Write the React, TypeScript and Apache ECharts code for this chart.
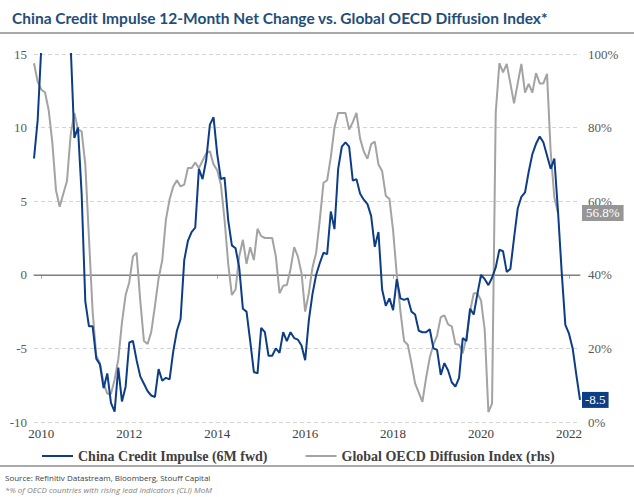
import React, { useEffect, useRef } from "react";
import * as echarts from "echarts";

// Monthly series, first month Nov 2009
const startYear = 2009;
const startMonth = 11;

// China Credit Impulse (6M fwd), Nov 2009 .. Apr 2022 (values above 15 are clipped in the chart)
const creditImpulse = [
  7.9, 10.5, 15.5, 18.5, 20.5, 21.5, 21.0, 20.0, 18.5, 17.0,
  15.6, 9.3, 10.0, 5.5, -1.8, -3.5, -3.5, -5.7, -6.1, -7.7,
  -6.7, -8.7, -9.3, -6.3, -8.6, -7.6, -4.6, -4.5, -5.8, -6.9,
  -7.4, -7.9, -8.2, -8.3, -6.4, -7.2, -7.0, -7.1, -5.2, -3.8,
  -3.0, 1.0, 2.3, 2.9, 3.2, 7.2, 6.5, 7.8, 10.2, 10.7,
  8.2, 6.5, 6.6, 3.7, 2.0, 1.8, 0.5, -2.3, -2.5, -4.5,
  -6.6, -6.7, -3.6, -3.9, -5.5, -5.5, -5.0, -5.3, -3.9, -4.5,
  -3.9, -4.3, -4.4, -4.8, -5.8, -3.1, -1.3, 0.0, 0.8, 1.5,
  1.4, 4.3, 3.1, 7.2, 8.7, 9.0, 8.7, 6.4, 6.5, 5.5,
  5.1, 4.8, 4.0, 1.9, 2.9, -1.0, -2.1, -1.6, -2.4, -0.3,
  -1.6, -1.7, -1.6, -2.5, -2.7, -3.8, -3.9, -3.9, -3.7, -5.0,
  -5.1, -6.8, -6.0, -6.5, -7.3, -7.6, -7.0, -4.3, -4.5, -2.3,
  -2.7, -1.3, 0.0, -0.3, -0.7, -0.2, 0.5, 1.7, 1.6, 0.2,
  0.4, 2.5, 4.5, 5.3, 5.6, 7.0, 8.2, 8.9, 9.4, 9.0,
  8.1, 7.2, 7.9, 4.3, 0.2, -3.4, -4.0, -5.0, -6.8, -8.5,
];

// Global OECD Diffusion Index (%), Nov 2009 .. Oct 2021
const oecdDiffusion = [
  97.5, 92.5, 90.3, 89.6, 84.8, 76, 63, 58.5, 62, 65.5,
  78, 84, 79.5, 79, 70, 50, 30, 18, 16, 10.5,
  7.7, 7.7, 11.5, 17, 27, 34.5, 38, 45, 46, 33,
  22, 21.2, 24.5, 31.5, 39, 44, 55, 60.5, 64, 65.7,
  64, 64.5, 69, 69, 70.5, 69, 71, 73, 73.6, 70,
  68.4, 64.5, 55, 43, 34.5, 36, 45, 49.5, 43, 47.5,
  44, 52.5, 50.5, 50, 50, 50, 45, 35, 37, 37.2,
  41.5, 47.5, 45, 40.5, 30, 35, 42, 46, 55, 65,
  65.7, 72, 80, 84, 84, 84, 79.5, 81.5, 84, 77,
  73.5, 71.5, 75.5, 76.2, 70, 68.2, 61.5, 60.6, 52, 40,
  30, 22, 21, 16, 10.5, 8, 5.5, 12, 17.5, 21,
  23.5, 28.5, 29, 26.5, 26, 21.2, 21, 18.7, 23, 30,
  35, 35, 33, 25, 2.7, 5, 84, 97.5, 95, 97.3,
  92, 86.6, 92, 97.3, 89.5, 91.9, 89.5, 94.8, 92, 92,
  94.6, 73.4, 61, 56.8,
];

const xTickLabels = ["2010", "2012", "2014", "2016", "2018", "2020", "2022"];

const BLUE = "#0c3d86";
const GRAY = "#a3a3a3";
const SERIF = "'Liberation Serif', 'Times New Roman', serif";

function monthCategories(): string[] {
  const out: string[] = [];
  let y = startYear;
  let m = startMonth;
  for (let i = 0; i < creditImpulse.length; i++) {
    out.push(`${y}-${String(m).padStart(2, "0")}`);
    m++;
    if (m > 12) {
      m = 1;
      y++;
    }
  }
  return out;
}

export default function App() {
  const ref = useRef<HTMLDivElement>(null);

  useEffect(() => {
    if (!ref.current) return;
    const chart = echarts.init(ref.current, undefined, { renderer: "svg" });
    const cats = monthCategories();
    const isTick = (_i: number, v: string) =>
      v.endsWith("-01") && xTickLabels.includes(v.slice(0, 4));

    chart.setOption({
      animation: false,
      backgroundColor: "#ffffff",
      title: {
        text: "China Credit Impulse 12-Month Net Change vs. Global OECD Diffusion Index*",
        left: 7,
        top: 5,
        textStyle: {
          fontFamily: "Lato, 'Open Sans', sans-serif",
          fontWeight: "bold",
          fontSize: 15.5,
          color: "#1f4e79",
        },
      },
      graphic: [
        {
          type: "line",
          shape: { x1: 0, y1: 33, x2: 634, y2: 33 },
          style: { stroke: "#8c8c8c", lineWidth: 1.5 },
        },
        {
          type: "line",
          shape: { x1: 0, y1: 466, x2: 634, y2: 466 },
          style: { stroke: "#8c8c8c", lineWidth: 1.5 },
        },
        {
          type: "text",
          left: 5,
          top: 473,
          style: {
            text: "Source: Refinitiv Datastream, Bloomberg, Stouff Capital",
            fontFamily: "'Open Sans', Lato, sans-serif",
            fontSize: 8,
            fill: "#404040",
          },
        },
        {
          type: "text",
          left: 5,
          top: 485,
          style: {
            text: "*% of OECD countries with rising lead indicators (CLI) MoM",
            fontFamily: "'Open Sans', Lato, sans-serif",
            fontSize: 8,
            fontStyle: "italic",
            fill: "#7f7f7f",
          },
        },
      ],
      legend: {
        left: 37,
        top: 444,
        itemWidth: 31,
        itemHeight: 2,
        itemGap: 38,
        icon: "rect",
        textStyle: {
          fontFamily: SERIF,
          fontWeight: "bold",
          fontSize: 14,
          color: "#404040",
        },
        data: ["China Credit Impulse (6M fwd)", "Global OECD Diffusion Index (rhs)"],
      },
      grid: { left: 34, right: 54, top: 54, bottom: 75, containLabel: false },
      xAxis: {
        type: "category",
        data: cats,
        boundaryGap: false,
        axisLine: { lineStyle: { color: "#a6a6a6", width: 1.5 } },
        axisTick: { show: true, interval: isTick, length: 4, lineStyle: { color: "#a6a6a6" } },
        axisLabel: {
          interval: isTick,
          formatter: (v: string) => v.slice(0, 4),
          fontFamily: SERIF,
          fontSize: 13,
          color: "#404040",
          margin: 5,
        },
        splitLine: { show: false },
      },
      yAxis: [
        {
          type: "value",
          min: -10,
          max: 15,
          interval: 5,
          axisLine: { show: false },
          axisTick: { show: false },
          axisLabel: { fontFamily: SERIF, fontSize: 13, color: "#595959", margin: 7 },
          splitLine: { show: true, lineStyle: { color: "#d4d4d4", type: [4, 3], width: 1 } },
        },
        {
          type: "value",
          min: 0,
          max: 100,
          interval: 20,
          position: "right",
          axisLine: { show: false },
          axisTick: { show: false },
          axisLabel: {
            formatter: "{value}%",
            fontFamily: SERIF,
            fontSize: 13,
            color: "#595959",
            margin: 8,
          },
          splitLine: { show: false },
        },
      ],
      series: [
        {
          name: "Global OECD Diffusion Index (rhs)",
          type: "line",
          yAxisIndex: 1,
          data: oecdDiffusion,
          showSymbol: false,
          symbol: "none",
          lineStyle: { color: GRAY, width: 2 },
          itemStyle: { color: GRAY },
          z: 2,
          endLabel: {
            show: true,
            distance: 24,
            formatter: (p: any) => `${p.value}%`,
            backgroundColor: "#969696",
            color: "#ffffff",
            fontFamily: SERIF,
            fontSize: 13,
            padding: [2, 4, 1, 4],
          },
        },
        {
          name: "China Credit Impulse (6M fwd)",
          type: "line",
          yAxisIndex: 0,
          data: creditImpulse,
          showSymbol: false,
          symbol: "none",
          clip: true,
          lineStyle: { color: BLUE, width: 2 },
          itemStyle: { color: BLUE },
          z: 3,
          endLabel: {
            show: true,
            distance: 2,
            formatter: (p: any) => `${p.value}`,
            backgroundColor: BLUE,
            color: "#ffffff",
            fontFamily: SERIF,
            fontSize: 13,
            padding: [2, 3, 1, 3],
          },
          markLine: {
            silent: true,
            symbol: "none",
            label: { show: false },
            lineStyle: { color: "#7f7f7f", type: "solid", width: 1.2 },
            data: [{ yAxis: 0 }],
            z: 1,
          },
        },
      ],
    });

    return () => chart.dispose();
  }, []);

  return (
    <div
      ref={ref}
      style={{ position: "absolute", left: 0, top: 0, width: 634, height: 497, background: "#fff" }}
    />
  );
}
